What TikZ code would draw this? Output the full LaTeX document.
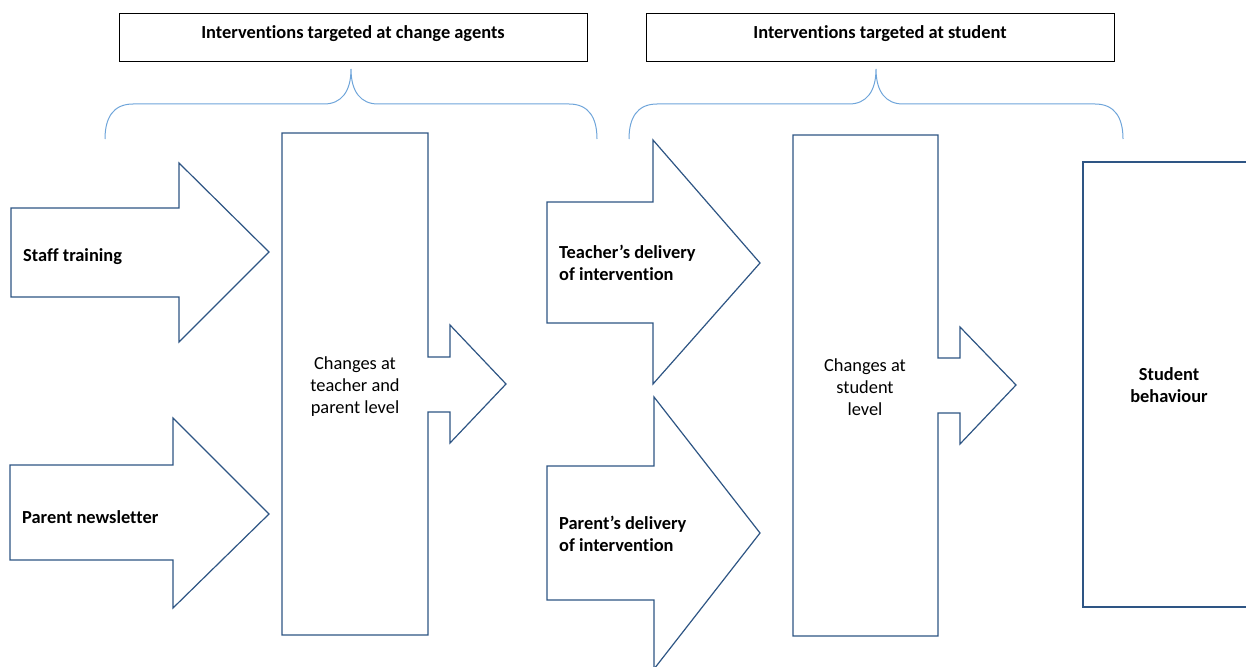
\documentclass[tikz,border=0pt]{standalone}
\usepackage{fontspec}
\setmainfont{Carlito}[Ligatures=NoCommon]
\definecolor{shapeblue}{HTML}{2E5584}
\definecolor{braceblue}{HTML}{6FA5DA}
\begin{document}
\begin{tikzpicture}[x=1pt,y=-1pt,
  outl/.style={draw=shapeblue,line width=1.2pt,fill=white,line join=miter},
  brace/.style={draw=braceblue,line width=1pt},
  headbox/.style={draw=black,line width=1pt,fill=white},
  lbl/.style={font=\fontsize{18.4}{22}\selectfont,inner sep=0pt},
  blbl/.style={font=\fontsize{18.4}{22}\selectfont\bfseries,inner sep=0pt}]
\useasboundingbox (0,0) rectangle (1246,666);
\clip (0,0) rectangle (1246,666);
% header boxes
\draw[headbox] (119,14) rectangle (587,62);
\node[blbl] (h1) at (353,34) {Interventions targeted at change agents};
\draw[headbox] (646,14) rectangle (1114,62);
\node[blbl] (h2) at (880,34) {Interventions targeted at student};
% braces
\draw[brace] (105,139) .. controls (105,118) and (113,104) .. (133,104) -- (324,104)
  .. controls (341,104) and (351,92) .. (351,69)
  .. controls (351,92) and (361,104) .. (378,104) -- (569,104)
  .. controls (589,104) and (597,118) .. (597,139);
\draw[brace] (629,139) .. controls (629,118) and (637,104) .. (657,104) -- (849,104)
  .. controls (866,104) and (876,92) .. (876,69)
  .. controls (876,92) and (886,104) .. (903,104) -- (1095,104)
  .. controls (1115,104) and (1123,118) .. (1123,139);
% staff training arrow
\draw[outl] (11,208) -- (179,208) -- (179,163) -- (269,252) -- (179,342) -- (179,297) -- (11,297) -- cycle;
\node[blbl,anchor=west] (st) at (23,257) {Staff training};
% parent newsletter arrow
\draw[outl] (10,465) -- (173,465) -- (173,418) -- (269,514) -- (173,608) -- (173,560) -- (10,560) -- cycle;
\node[blbl,anchor=west] (pn) at (22,517) {Parent newsletter};
% changes at teacher and parent level
\draw[outl] (282,133) -- (428,133) -- (428,357) -- (450,357) -- (450,325) -- (506,384) -- (450,443) -- (450,412) -- (428,412) -- (428,635) -- (282,635) -- cycle;
\node[lbl,align=center] (ctp) at (355,387) {Changes at\\teacher and\\parent level};
% teacher's delivery arrow
\draw[outl] (547,202) -- (653,202) -- (653,140) -- (760,263) -- (653,384) -- (653,323) -- (547,323) -- cycle;
\node[blbl,align=left,anchor=west] (td) at (559,263) {Teacher’s delivery\\of intervention};
% parent's delivery arrow
\draw[outl] (547,466) -- (654,466) -- (654,397) -- (760,533) -- (654,669) -- (654,600) -- (547,600) -- cycle;
\node[blbl,align=left,anchor=west] (pd) at (559,534) {Parent’s delivery\\of intervention};
% changes at student level
\draw[outl] (793,135) -- (938,135) -- (938,358) -- (960,358) -- (960,327) -- (1016,385) -- (960,444) -- (960,413) -- (938,413) -- (938,636) -- (793,636) -- cycle;
\node[lbl,align=center] (csl) at (865,387) {Changes at\\student\\level};
% student behaviour
\draw[outl] (1260,162) -- (1083,162) -- (1083,607) -- (1260,607);
\node[blbl,align=center] (sb) at (1169,385) {Student\\behaviour};
\end{tikzpicture}
\end{document}
